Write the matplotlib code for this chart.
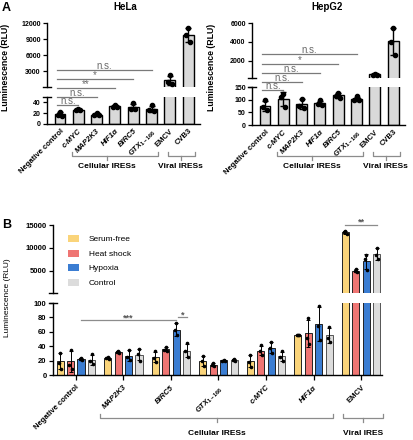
import numpy as np
import matplotlib.pyplot as plt
from matplotlib.transforms import blended_transform_factory
from matplotlib.patches import Patch

plt.rcParams['font.family'] = 'Liberation Sans'
plt.rcParams['font.weight'] = 'bold'
plt.rcParams['mathtext.fontset'] = 'custom'
plt.rcParams['mathtext.rm'] = 'Liberation Sans:bold'
plt.rcParams['mathtext.it'] = 'Liberation Sans:italic:bold'
plt.rcParams['axes.linewidth'] = 1.0

W, H = 413, 440

# ---------------- panel A data (three replicates per construct) ----------------
a_labels = ['Negative control', 'c-MYC', 'MAP2K3', 'HIF1α', 'BIRC5', r'$GTX_{1-166}$', 'EMCV', 'CVB3']
a_italic = [False, True, True, True, True, False, False, False]
hela = [[22, 17, 15], [28, 25, 25], [20, 16, 16], [36, 32, 32], [38, 28, 28],
        [35, 25, 24], [2300, 1100, 600], [11000, 9800, 8500]]
hepg2 = [[97, 70, 60], [124, 110, 70], [104, 75, 66], [97, 84, 80], [128, 116, 107],
         [113, 100, 98], [560, 520, 500], [5500, 4000, 2600]]
hela_sig = [('n.s.', 1), ('n.s.', 2), ('**', 3), ('*', 4), ('n.s.', 5)]
hepg2_sig = [('n.s.', 1), ('n.s.', 2), ('n.s.', 3), ('*', 4), ('n.s.', 5)]

# ---------------- panel B data ----------------
b_groups = ['Negative control', 'MAP2K3', 'BIRC5', r'$GTX_{1-166}$', 'c-MYC', 'HIF1α', 'EMCV']
b_italic = [False, True, True, False, True, True, False]
conditions = ['Serum-free', 'Heat shock', 'Hypoxia', 'Control']
serum_free = [[31, 17, 9], [25, 24, 22], [33, 24, 18], [26, 19, 12], [28, 18, 11], [56, 55, 55],
              [13800, 13400, 13100]]
heat_shock = [[35, 14, 8], [33, 32, 31], [39, 35, 34], [17, 14, 12], [41, 33, 28], [79, 52, 43],
              [5350, 5050, 4850]]
hypoxia = [[23, 22, 21], [35, 25, 21], [72, 62, 55], [21, 20, 20], [46, 37, 31], [96, 68, 49],
           [8500, 7500, 5300]]
control = [[29, 19, 15], [36, 29, 20], [44, 33, 25], [22, 21, 20], [33, 25, 20], [67, 52, 46],
           [10000, 8400, 7500]]
b_colors = ['#FAD47A', '#EF7573', '#3B7DD2', '#DCDCDC']
b_edges = ['#222222', '#222222', '#222222', '#555555']

fig = plt.figure(figsize=(W / 100, H / 100), dpi=100)


def rect(l, t, r, b):
    return [l / W, 1 - b / H, (r - l) / W, (b - t) / H]


def fy(px):
    return 1 - px / H


def style_pair(ax_up, ax_lo, d):
    for s in ['top', 'right', 'bottom']:
        ax_up.spines[s].set_visible(False)
    for s in ['top', 'right']:
        ax_lo.spines[s].set_visible(False)
    ax_up.set_xticks([])
    for ax in (ax_up, ax_lo):
        ax.tick_params(axis='y', length=3, width=0.9, pad=1.5, labelsize=5)
    # break marks
    ax_up.plot([-d, d], [0, 0], transform=ax_up.transAxes, color='k', lw=1, clip_on=False)
    ax_lo.plot([-d, d], [1, 1], transform=ax_lo.transAxes, color='k', lw=1, clip_on=False)


def draw_bars(ax, xs, vals, lim, width, color, edge, lw, cap, ms, spread):
    # only draw what belongs to this half of the broken axis
    means = np.array([np.mean(v) for v in vals])
    sds = np.array([np.std(v, ddof=1) for v in vals])
    keep = means > lim[0]
    ax.bar(xs[keep], means[keep], width=width, color=color, edgecolor=edge, lw=lw, zorder=2)
    ax.errorbar(xs[keep], means[keep], yerr=sds[keep], fmt='none', ecolor='k', elinewidth=lw,
                capsize=cap, capthick=lw, zorder=3)
    for i, v in enumerate(vals):
        v = np.array(v, dtype=float)
        px = xs[i] + np.array([0, -spread, spread])
        ok = (v > lim[0]) & (v < lim[1])
        ax.plot(px[ok], v[ok], 'o', color='k', ms=ms, zorder=4)


def bracket(ax, x0, x1, xm, y, label, ly):
    tr = blended_transform_factory(ax.transData, fig.transFigure)
    c = '#8c8c8c'
    ax.plot([x0, x0, x1, x1], [fy(y - 4), fy(y), fy(y), fy(y - 4)], transform=tr, color=c,
            lw=0.9, clip_on=False)
    ax.plot([xm, xm], [fy(y), fy(y + 4)], transform=tr, color=c, lw=0.9, clip_on=False)
    ax.text(xm, fy(ly), label, transform=tr, ha='center', va='center', fontsize=6)


def panel_a(left, right, top_up, bot_up, top_lo, bot_lo, data, up_lim, up_ticks, lo_lim, lo_ticks,
            sig, sig_y, title, title_x):
    ax_up = fig.add_axes(rect(left, top_up, right, bot_up))
    ax_lo = fig.add_axes(rect(left, top_lo, right, bot_lo))
    x = np.arange(len(data))
    draw_bars(ax_up, x, data, up_lim, 0.6, '#D9D9D9', 'k', 1.0, 2, 3, 0.12)
    draw_bars(ax_lo, x, data, (-1, lo_lim[1]), 0.6, '#D9D9D9', 'k', 1.0, 2, 3, 0.12)
    for ax in (ax_up, ax_lo):
        ax.set_xlim(-0.71, 7.65)
    ax_up.set_ylim(*up_lim)
    ax_up.set_yticks(up_ticks)
    ax_lo.set_ylim(*lo_lim)
    ax_lo.set_yticks(lo_ticks)
    style_pair(ax_up, ax_lo, 4 / (right - left))
    ax_lo.set_xticks(x)
    ax_lo.set_xticklabels(a_labels, rotation=45, ha='right', rotation_mode='anchor', fontsize=5.5)
    for lbl, it in zip(ax_lo.get_xticklabels(), a_italic):
        if it:
            lbl.set_style('italic')
    ax_lo.tick_params(axis='x', length=0, pad=2.5)
    # significance lines (y in lower-axes fraction)
    tr = blended_transform_factory(ax_lo.transData, ax_lo.transAxes)
    for (txt, target), yy in zip(sig, sig_y):
        ax_lo.plot([-0.15, target], [yy, yy], transform=tr, color='#7a7a7a', lw=0.9, clip_on=False)
        ax_lo.annotate(txt, ((target - 0.15) / 2, yy), xycoords=tr, xytext=(0, 0.6),
                       textcoords='offset points', ha='center', va='baseline', fontsize=7,
                       color='#6a6a6a', fontweight='normal', annotation_clip=False)
    bracket(ax_lo, 0.65, 5.36, 2.57, 156, 'Cellular IRESs', 167)
    bracket(ax_lo, 5.9, 7.4, 6.6, 156, 'Viral IRESs', 167)
    fig.text(title_x / W, fy(7), title, ha='center', va='center', fontsize=7)
    fig.text((left - 41) / W, fy(67), 'Luminescence (RLU)', rotation=90,
             ha='center', va='center', fontsize=6.3)


panel_a(47, 200, 23, 87, 97, 124, hela, (100, 12000), [3000, 6000, 9000, 12000], (0, 50),
        [0, 20, 40], hela_sig, [0.70, 1.0, 1.33, 1.67, 2.0], 'HeLa', 125)
panel_a(252, 405, 23, 78, 87, 125, hepg2, (150, 6000), [2000, 4000, 6000], (0, 150),
        [0, 50, 100, 150], hepg2_sig, [0.92, 1.13, 1.37, 1.61, 1.87], 'HepG2', 327)

fig.text(2 / W, fy(2), 'A', ha='left', va='top', fontsize=9)
fig.text(2 / W, fy(219), 'B', ha='left', va='top', fontsize=9)

# ---------------- panel B ----------------
bx_up = fig.add_axes(rect(53, 225, 382, 293))
bx_lo = fig.add_axes(rect(53, 303, 382, 375))
gx = np.arange(len(b_groups))
offsets = [-0.33, -0.11, 0.11, 0.33]
series = [serum_free, heat_shock, hypoxia, control]
for k, vals in enumerate(series):
    xs = gx + offsets[k]
    draw_bars(bx_up, xs, vals, (200, 15000), 0.15, b_colors[k], b_edges[k], 0.7, 1.2, 1.6, 0.025)
    draw_bars(bx_lo, xs, vals, (-1, 100), 0.15, b_colors[k], b_edges[k], 0.7, 1.2, 1.6, 0.025)
for ax in (bx_up, bx_lo):
    ax.set_xlim(-0.48, 6.44)
bx_up.set_ylim(200, 15000)
bx_up.set_yticks([5000, 10000, 15000])
bx_lo.set_ylim(0, 100)
bx_lo.set_yticks([0, 20, 40, 60, 80, 100])
style_pair(bx_up, bx_lo, 4 / (382 - 53))
for ax in (bx_up, bx_lo):
    ax.tick_params(axis='y', labelsize=5.5)
bx_lo.set_xticks(gx)
bx_lo.set_xticklabels(b_groups, rotation=45, ha='right', rotation_mode='anchor', fontsize=5.5)
for lbl, it in zip(bx_lo.get_xticklabels(), b_italic):
    if it:
        lbl.set_style('italic')
bx_lo.tick_params(axis='x', length=3.5, width=0.9, pad=3)

sig_c = '#8c8c8c'
bx_lo.plot([0.11, 2.11], [76, 76], color=sig_c, lw=0.9, clip_on=False, zorder=5)
bx_lo.text(1.11, 76, '***', ha='center', va='baseline', fontsize=6.5, color='#555555')
bx_lo.plot([2.15, 2.33], [80, 80], color=sig_c, lw=0.9, clip_on=False, zorder=5)
bx_lo.text(2.24, 80, '*', ha='center', va='baseline', fontsize=6.5, color='#555555')
bx_up.plot([5.67, 6.33], [15100, 15100], color=sig_c, lw=0.9, clip_on=False, zorder=5)
bx_up.text(6.0, 15100, '**', ha='center', va='baseline', fontsize=6.5, color='#555555', clip_on=False)

bracket(bx_lo, 0.5, 5.41, 2.96, 418, 'Cellular IRESs', 433)
bracket(bx_lo, 5.62, 6.46, 6.04, 418, 'Viral IRES', 433)

fig.text(8 / W, fy(298), 'Luminescence (RLU)', rotation=90, ha='center', va='center', fontsize=6,
         fontweight='normal')

handles = [Patch(facecolor=c, edgecolor='none') for c in b_colors]
fig.legend(handles, conditions, loc='upper left', bbox_to_anchor=(68 / W, fy(235)), frameon=False,
           prop={'size': 6, 'weight': 'normal'}, handlelength=1.3, handleheight=0.9,
           labelspacing=0.75, handletextpad=1.2, borderaxespad=0, borderpad=0)

fig.savefig('out.png', dpi=100)
